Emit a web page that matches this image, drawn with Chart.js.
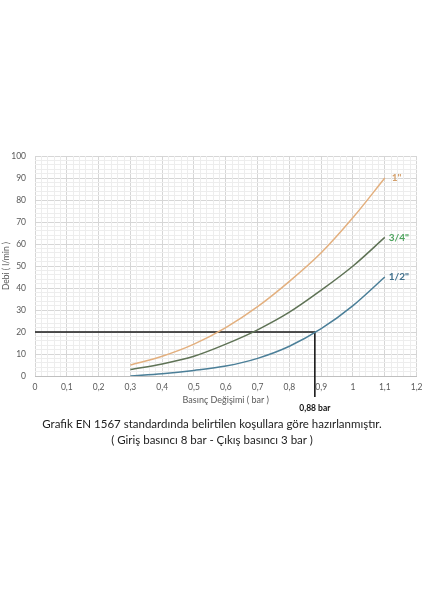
<!DOCTYPE html>
<html>
<head>
<meta charset="utf-8">
<script src="https://cdn.jsdelivr.net/npm/chart.js@4"></script>
<style>
  html, body { margin: 0; padding: 0; background: #fff; }
  #wrap { position: relative; width: 424px; height: 600px; }
  #chart { position: absolute; left: 0; top: 0; }
  .caption {
    position: absolute; left: 0; width: 424px; text-align: center;
    font-family: Lato, "Open Sans", sans-serif; font-size: 11.5px; color: #222;
  }
</style>
</head>
<body>
<div id="wrap">
  <canvas id="chart" width="424" height="600"></canvas>
  <div class="caption" style="top:417px">Grafik EN 1567 standardında belirtilen koşullara göre hazırlanmıştır.</div>
  <div class="caption" style="top:433px">( Giriş basıncı 8 bar - Çıkış basıncı 3 bar )</div>
</div>
<script>
// pressure change (bar) and flow (l/min) per pipe size
const pressure = [0.3, 0.4, 0.5, 0.6, 0.7, 0.8, 0.9, 1.0, 1.1];
const flow1in  = [5, 9, 14.5, 22, 31.5, 43, 56, 72, 90];
const flow34in = [3, 5.5, 9, 14.5, 21, 29, 39, 50, 63];
const flow12in = [0, 1, 2.5, 4.5, 8, 13.5, 21.5, 32, 45];
const seriesNames = ['1"', '3/4"', '1/2"'];

// reference reading: 20 l/min -> 0,88 bar
const refX = [0, 0.88, 0.88];
const refY = [20, 20, -9.5];
const refLabel = '0,88 bar';

const lineColors  = ['#e3b07f', '#5f7356', '#4b7f98'];
const labelColors = ['#d4a06c', '#4ea45e', '#3f6f8c'];

function toPoints(xs, ys) {
    return xs.map((x, i) => ({ x: x, y: ys[i] }));
}

// ✅ skip minor lines that sit on a major line
function minorColor(major) {
    return function (ctx) {
        const r = ctx.tick.value / major;
        return Math.abs(r - Math.round(r)) < 1e-6 ? 'rgba(0,0,0,0)' : '#ededed';
    };
}

// ✅ series name next to the end of each curve + arrow label
const endLabels = {
    id: 'endLabels',
    afterDatasetsDraw(chart) {
        const ctx = chart.ctx;
        ctx.save();
        ctx.font = 'bold 10px Lato, "Open Sans", sans-serif';
        ctx.textBaseline = 'middle';
        ctx.textAlign = 'left';
        for (let i = 0; i < 3; i++) {
            const meta = chart.getDatasetMeta(i);
            const last = meta.data[meta.data.length - 1];
            ctx.fillStyle = labelColors[i];
            ctx.fillText(seriesNames[i], last.x + (i === 0 ? 7 : 4), last.y);
        }
        const xs = chart.scales.x;
        const ys = chart.scales.y;
        ctx.fillStyle = '#111';
        ctx.font = 'bold 8.5px Lato, "Open Sans", sans-serif';
        ctx.textAlign = 'center';
        ctx.fillText(refLabel, xs.getPixelForValue(refX[1]), ys.getPixelForValue(refY[2]) + 11);
        ctx.restore();
    }
};

const tickFont = { family: 'Lato, "Open Sans", sans-serif', size: 8.5 };

new Chart(document.getElementById('chart'), {
    type: 'scatter',
    data: {
        datasets: [
            { data: toPoints(pressure, flow1in),  borderColor: lineColors[0] },
            { data: toPoints(pressure, flow34in), borderColor: lineColors[1] },
            { data: toPoints(pressure, flow12in), borderColor: lineColors[2] }
        ].map(d => Object.assign(d, {
            showLine: true, borderWidth: 1.5, pointRadius: 0, tension: 0.4,
            cubicInterpolationMode: 'monotone'
        })).concat([
            {
                data: toPoints(refX, refY), showLine: true, borderColor: '#1a1a1a',
                borderWidth: 1.6, pointRadius: 0, tension: 0, clip: false
            },
            {
                data: [{ x: refX[2], y: refY[2] }], pointStyle: 'triangle', rotation: 180,
                pointRadius: 3.5, backgroundColor: '#111', borderColor: '#111', clip: false
            }
        ])
    },
    options: {
        responsive: false,
        animation: false,
        events: [],
        layout: { padding: { left: 0, top: 156, right: 7.4, bottom: 194 } },
        plugins: { legend: { display: false }, tooltip: { enabled: false } },
        scales: {
            x: {
                type: 'linear', min: 0, max: 1.2,
                afterFit: s => { s.height = 30; s.paddingLeft = 0; s.paddingRight = 0; },
                ticks: {
                    stepSize: 0.1, autoSkip: false, padding: 6, color: '#595959', font: tickFont,
                    callback: v => String(Math.round(v * 10) / 10).replace('.', ',')
                },
                grid: { color: '#d6d6d6', drawTicks: false },
                border: { color: '#bfbfbf' },
                title: {
                    display: true, text: 'Basınç Değişimi ( bar )', color: '#595959',
                    font: { family: 'Lato, "Open Sans", sans-serif', size: 9 },
                    padding: { top: 0, bottom: 0.6 }
                }
            },
            y: {
                type: 'linear', min: 0, max: 100,
                afterFit: s => { s.width = 35; s.paddingTop = 0; s.paddingBottom = 0; },
                ticks: { stepSize: 10, padding: 9, color: '#595959', font: tickFont },
                grid: { color: '#d6d6d6', drawTicks: false },
                border: { display: false },
                title: {
                    display: true, text: 'Debi ( l/min )', color: '#595959',
                    font: { family: 'Lato, "Open Sans", sans-serif', size: 8.5 },
                    padding: { top: 1, bottom: 0 }
                }
            },
            xMinor: {
                type: 'linear', position: 'top', min: 0, max: 1.2, z: -1,
                afterFit: s => { s.height = 0; s.paddingLeft = 0; s.paddingRight = 0; },
                ticks: { stepSize: 0.02, display: false },
                grid: { color: minorColor(0.1), drawTicks: false },
                border: { display: false }
            },
            yMinor: {
                type: 'linear', position: 'right', min: 0, max: 100, z: -1,
                afterFit: s => { s.width = 0; s.paddingTop = 0; s.paddingBottom = 0; },
                ticks: { stepSize: 2, display: false },
                grid: { color: minorColor(10), drawTicks: false },
                border: { display: false }
            }
        }
    },
    plugins: [endLabels]
});
</script>
</body>
</html>
